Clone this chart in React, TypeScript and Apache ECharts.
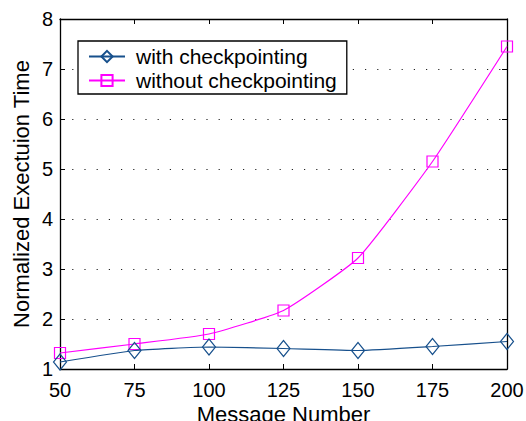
import React, { useEffect, useRef } from "react";
import * as echarts from "echarts";

const messageNumbers = [50, 75, 100, 125, 150, 175, 200];
const withCheckpointing = [1.14, 1.37, 1.44, 1.41, 1.37, 1.45, 1.55];
const withoutCheckpointing = [1.32, 1.5, 1.7, 2.17, 3.22, 5.15, 7.45];
const seriesNames = ["with checkpointing", "without checkpointing"];
const xAxisTitle = "Message Number";
const yAxisTitle = "Normalized Exectuion Time";

const FONT = "'Liberation Sans', Arial, Helvetica, sans-serif";
const BLUE = "#17508c";
const MAGENTA = "#ff00ff";

export default function App() {
  const ref = useRef<HTMLDivElement>(null);
  useEffect(() => {
    if (!ref.current) return;
    const chart = echarts.init(ref.current, undefined, { renderer: "svg" });
    const pair = (ys: number[]) => messageNumbers.map((x, i) => [x, ys[i]]);
    const axisLine = { show: true, lineStyle: { color: "#000", width: 1.3 } };
    const axisTick = { show: true, inside: true, length: 5, lineStyle: { color: "#000", width: 1 } };
    chart.setOption({
      animation: false,
      backgroundColor: "#fff",
      textStyle: { fontFamily: FONT },
      grid: {
        left: 60,
        right: 19,
        top: 19,
        bottom: 52,
        containLabel: false,
        outerBoundsMode: "none",
      },
      legend: {
        show: true,
        orient: "vertical",
        left: 78,
        top: 41,
        data: seriesNames,
        backgroundColor: "#fff",
        borderColor: "#000",
        borderWidth: 1.3,
        borderRadius: 0,
        padding: [5, 10, 3, 10],
        itemGap: 3,
        itemWidth: 36,
        itemHeight: 14,
        textStyle: { fontFamily: FONT, fontSize: 21, color: "#000", padding: [0, 0, 0, 6] },
      },
      xAxis: [
        {
          type: "value",
          min: 50,
          max: 200,
          interval: 25,
          position: "bottom",
          name: xAxisTitle,
          nameLocation: "middle",
          nameGap: 34,
          nameMoveOverlap: false,
          nameTextStyle: { fontFamily: FONT, fontSize: 22, color: "#000" },
          axisLine,
          axisTick,
          axisLabel: { fontFamily: FONT, fontSize: 20, color: "#000", margin: 11 },
          splitLine: { show: false },
        },
        {
          type: "value",
          min: 50,
          max: 200,
          interval: 25,
          position: "top",
          axisLine,
          axisTick,
          axisLabel: { show: false },
          splitLine: { show: false },
        },
      ],
      yAxis: [
        {
          type: "value",
          min: 1,
          max: 8,
          interval: 1,
          position: "left",
          name: yAxisTitle,
          nameLocation: "middle",
          nameGap: 28,
          nameMoveOverlap: false,
          nameTextStyle: { fontFamily: FONT, fontSize: 22, color: "#000" },
          axisLine,
          axisTick,
          axisLabel: { fontFamily: FONT, fontSize: 20, color: "#000", margin: 7 },
          splitLine: { show: true, lineStyle: { color: "#222", width: 1, type: [1.2, 11] } },
        },
        {
          type: "value",
          min: 1,
          max: 8,
          interval: 1,
          position: "right",
          axisLine,
          axisTick,
          axisLabel: { show: false },
          splitLine: { show: false },
        },
      ],
      series: [
        {
          name: seriesNames[0],
          type: "line",
          data: pair(withCheckpointing),
          smooth: 0.15,
          symbol: "diamond",
          symbolSize: [13, 16],
          lineStyle: { color: BLUE, width: 1.2 },
          itemStyle: { color: "rgba(255,255,255,0)", borderColor: BLUE, borderWidth: 1.2 },
          emphasis: { disabled: true },
          z: 3,
        },
        {
          name: seriesNames[1],
          type: "line",
          data: pair(withoutCheckpointing),
          smooth: 0.15,
          symbol: "rect",
          symbolSize: 11,
          lineStyle: { color: MAGENTA, width: 1.2 },
          itemStyle: { color: "rgba(255,255,255,0)", borderColor: MAGENTA, borderWidth: 1.2 },
          emphasis: { disabled: true },
          z: 2,
        },
      ],
    });
    return () => chart.dispose();
  }, []);
  return (
    <div
      ref={ref}
      style={{ position: "fixed", left: 0, top: 0, width: 526, height: 421, background: "#fff" }}
    />
  );
}
